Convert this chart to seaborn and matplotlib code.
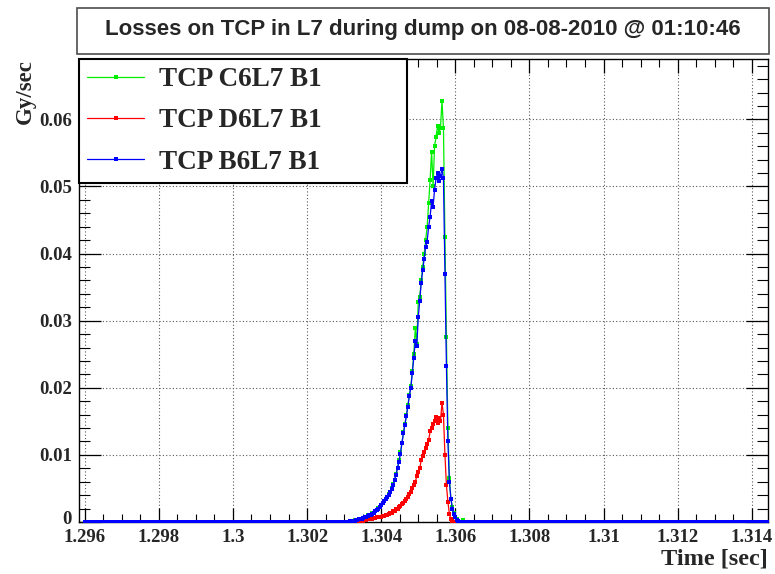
import numpy as np
import pandas as pd
import matplotlib
matplotlib.use("Agg")
import matplotlib.pyplot as plt
import matplotlib.transforms as mtransforms
import seaborn as sns
from matplotlib.patches import Rectangle
from matplotlib.ticker import MultipleLocator, FixedLocator, FixedFormatter

# ---------------- data ----------------
T_START = 1.2960          # first sample time [s]
T_STEP = 0.00004          # 40 us sampling
N_SAMPLES = 461           # up to 1.3144 s
PEAK_START = 1.3028       # first sample of the listed (non-zero) region

c6_peak = [0, 0, 0, 0, 0, 0, 0, 0, 0, 0.0001,
           0.0001, 0.0002, 0.0003, 0.0003, 0.0003, 0.0004, 0.0005, 0.0005, 0.0006, 0.0007,
           0.0008, 0.0010, 0.0010, 0.0011, 0.0013, 0.0014, 0.0017, 0.0018, 0.0021, 0.0023,
           0.0026, 0.0028, 0.0032, 0.0034, 0.0038, 0.0041, 0.0045, 0.0050, 0.0056, 0.0063,
           0.0072, 0.0081, 0.0092, 0.0104, 0.0118, 0.0134, 0.0146, 0.0160, 0.0174, 0.0190,
           0.0202, 0.0225, 0.0250, 0.0289, 0.0265, 0.0328, 0.0335, 0.0360, 0.0380, 0.0400,
           0.0420, 0.0440, 0.0475, 0.0510, 0.0552, 0.0500, 0.0560, 0.0574, 0.0590, 0.0580,
           0.0587, 0.0628, 0.0587, 0.0425, 0.0276, 0.0140, 0.0065, 0.0035, 0.0022, 0.0013,
           0.0008, 0.0004, 0.0002, 0, 0, 0.0003, 0, 0, 0, 0, 0]

d6_peak = [0, 0, 0, 0, 0, 0, 0, 0, 0, 0,
           0, 0, 0, 0, 0, 0.0001, 0.0001, 0.0002, 0.0002, 0.0003,
           0.0003, 0.0004, 0.0004, 0.0005, 0.0005, 0.0006, 0.0006, 0.0007, 0.0007, 0.0008,
           0.0008, 0.0009, 0.0009, 0.0010, 0.0011, 0.0012, 0.0013, 0.0014, 0.0016, 0.0017,
           0.0019, 0.0020, 0.0022, 0.0024, 0.0027, 0.0029, 0.0031, 0.0034, 0.0037, 0.0041,
           0.0045, 0.0050, 0.0055, 0.0060, 0.0068, 0.0074, 0.0080, 0.0092, 0.0098, 0.0104,
           0.0110, 0.0116, 0.0122, 0.0135, 0.0140, 0.0146, 0.0150, 0.0157, 0.0148, 0.0155,
           0.0150, 0.0178, 0.0160, 0.0100, 0.0055, 0.0030, 0.0012, 0.0004, 0.0001, 0,
           0, 0, 0, 0, 0, 0, 0, 0, 0, 0, 0]

b6_peak = [0, 0, 0, 0, 0, 0, 0, 0, 0, 0.0001,
           0.0001, 0.0002, 0.0002, 0.0003, 0.0003, 0.0004, 0.0004, 0.0005, 0.0006, 0.0007,
           0.0008, 0.0009, 0.0010, 0.0011, 0.0012, 0.0014, 0.0016, 0.0018, 0.0020, 0.0022,
           0.0025, 0.0028, 0.0031, 0.0034, 0.0037, 0.0040, 0.0044, 0.0049, 0.0055, 0.0062,
           0.0070, 0.0080, 0.0090, 0.0102, 0.0118, 0.0132, 0.0145, 0.0158, 0.0172, 0.0188,
           0.0200, 0.0222, 0.0245, 0.0270, 0.0262, 0.0305, 0.0330, 0.0356, 0.0375, 0.0392,
           0.0410, 0.0418, 0.0440, 0.0455, 0.0478, 0.0470, 0.0495, 0.0512, 0.0520, 0.0508,
           0.0516, 0.0526, 0.0512, 0.0370, 0.0232, 0.0120, 0.0060, 0.0035, 0.0020, 0.0012,
           0.0007, 0.0003, 0.0001, 0, 0, 0, 0, 0, 0, 0, 0]

series_names = ["TCP C6L7 B1", "TCP D6L7 B1", "TCP B6L7 B1"]
series_peaks = [c6_peak, d6_peak, b6_peak]
series_colors = ["#00ee00", "#ff0000", "#0000ff"]

x_ticks = [1.296, 1.298, 1.300, 1.302, 1.304, 1.306, 1.308, 1.310, 1.312, 1.314]
x_tick_labels = ["1.296", "1.298", "1.3", "1.302", "1.304", "1.306", "1.308",
                 "1.31", "1.312", "1.314"]
y_ticks = [0, 0.01, 0.02, 0.03, 0.04, 0.05, 0.06]
y_tick_labels = ["0", "0.01", "0.02", "0.03", "0.04", "0.05", "0.06"]

title_text = "Losses on TCP in L7 during dump on 08-08-2010 @ 01:10:46"

# ---------------- build long table ----------------
time = T_START + T_STEP * np.arange(N_SAMPLES)
i0 = int(round((PEAK_START - T_START) / T_STEP))
frames = []
for name, peak in zip(series_names, series_peaks):
    vals = np.zeros(N_SAMPLES)
    vals[i0:i0 + len(peak)] = peak
    frames.append(pd.DataFrame({"time": time, "value": vals, "series": name}))
df = pd.concat(frames, ignore_index=True)

# ---------------- style ----------------
sns.set_theme(style="white")
plt.rcParams["font.family"] = ["Liberation Serif", "DejaVu Serif"]

fig = plt.figure(figsize=(7.75, 5.74), dpi=100)
ax = fig.add_axes([79 / 775, 1 - 522 / 574, (768 - 79) / 775, (522 - 59) / 574])

for name, color in zip(series_names, series_colors):
    sub = df[df["series"] == name]
    sns.lineplot(data=sub, x="time", y="value", ax=ax, color=color, label=name,
                 linewidth=0.9, marker="s", markersize=2.3, markeredgewidth=0,
                 estimator=None, sort=True, zorder=3)

ax.set_xlim(1.295846, 1.314437)
ax.set_ylim(0, 0.069)

ax.xaxis.set_major_locator(FixedLocator(x_ticks))
ax.xaxis.set_major_formatter(FixedFormatter(x_tick_labels))
ax.xaxis.set_minor_locator(MultipleLocator(0.0005))
ax.yaxis.set_major_locator(FixedLocator(y_ticks))
ax.yaxis.set_major_formatter(FixedFormatter(y_tick_labels))
ax.yaxis.set_minor_locator(MultipleLocator(0.002))

ax.tick_params(axis="x", which="major", direction="in", top=True, bottom=True,
               length=10, width=0.9, color="black", pad=5, labelsize=13.5)
ax.tick_params(axis="x", which="minor", direction="in", top=True, bottom=True,
               length=5.5, width=0.8, color="black")
ax.tick_params(axis="y", which="major", direction="in", left=True, right=True,
               length=16, width=0.9, color="black", pad=5, labelsize=13.5)
ax.tick_params(axis="y", which="minor", direction="in", left=True, right=True,
               length=8, width=0.8, color="black")
for lab in ax.get_xticklabels() + ax.get_yticklabels():
    lab.set_fontweight("bold")

# lift the "0" y label slightly so it does not collide with the first x label
ylabs = ax.get_yticklabels()
ylabs[0].set_transform(ylabs[0].get_transform() +
                       mtransforms.ScaledTranslation(0, 3 / 72, fig.dpi_scale_trans))

ax.grid(True, which="major", color="0.35", linestyle=(0, (1, 2)), linewidth=0.8)
for sp in ax.spines.values():
    sp.set_visible(True)
    sp.set_color("black")
    sp.set_linewidth(1.0)

ax.set_xlabel("Time [sec]", fontsize=17.5, fontweight="bold", ha="right", va="top")
ax.xaxis.set_label_coords(1.0, -0.058)
ax.set_ylabel("Gy/sec", fontsize=16.5, fontweight="bold", ha="right")
ax.yaxis.set_label_coords(-0.062, 1.0)

leg = ax.legend(loc="upper left", bbox_to_anchor=(0.0, 1.0, 0.476, 0.0), mode="expand",
                borderaxespad=0.0, fancybox=False, framealpha=1.0, edgecolor="black",
                prop={"family": ["Liberation Serif"], "weight": "bold", "size": 19.5},
                handlelength=2.1, handletextpad=0.55, labelspacing=0.6,
                borderpad=0.3, markerscale=1.0)
leg.get_frame().set_linewidth(1.5)
leg.set_zorder(5)

# title box
fig.patches.append(Rectangle((77 / 775, 1 - 54 / 574), (769 - 77) / 775, (54 - 8) / 574,
                             transform=fig.transFigure, facecolor="white",
                             edgecolor="0.3", linewidth=1.2))
fig.text(423 / 775, 1 - 30 / 574, title_text, ha="center", va="center",
         fontsize=16, fontweight="bold", family=["Liberation Sans", "DejaVu Sans"])

fig.savefig("out.png", dpi=100, facecolor="white")
